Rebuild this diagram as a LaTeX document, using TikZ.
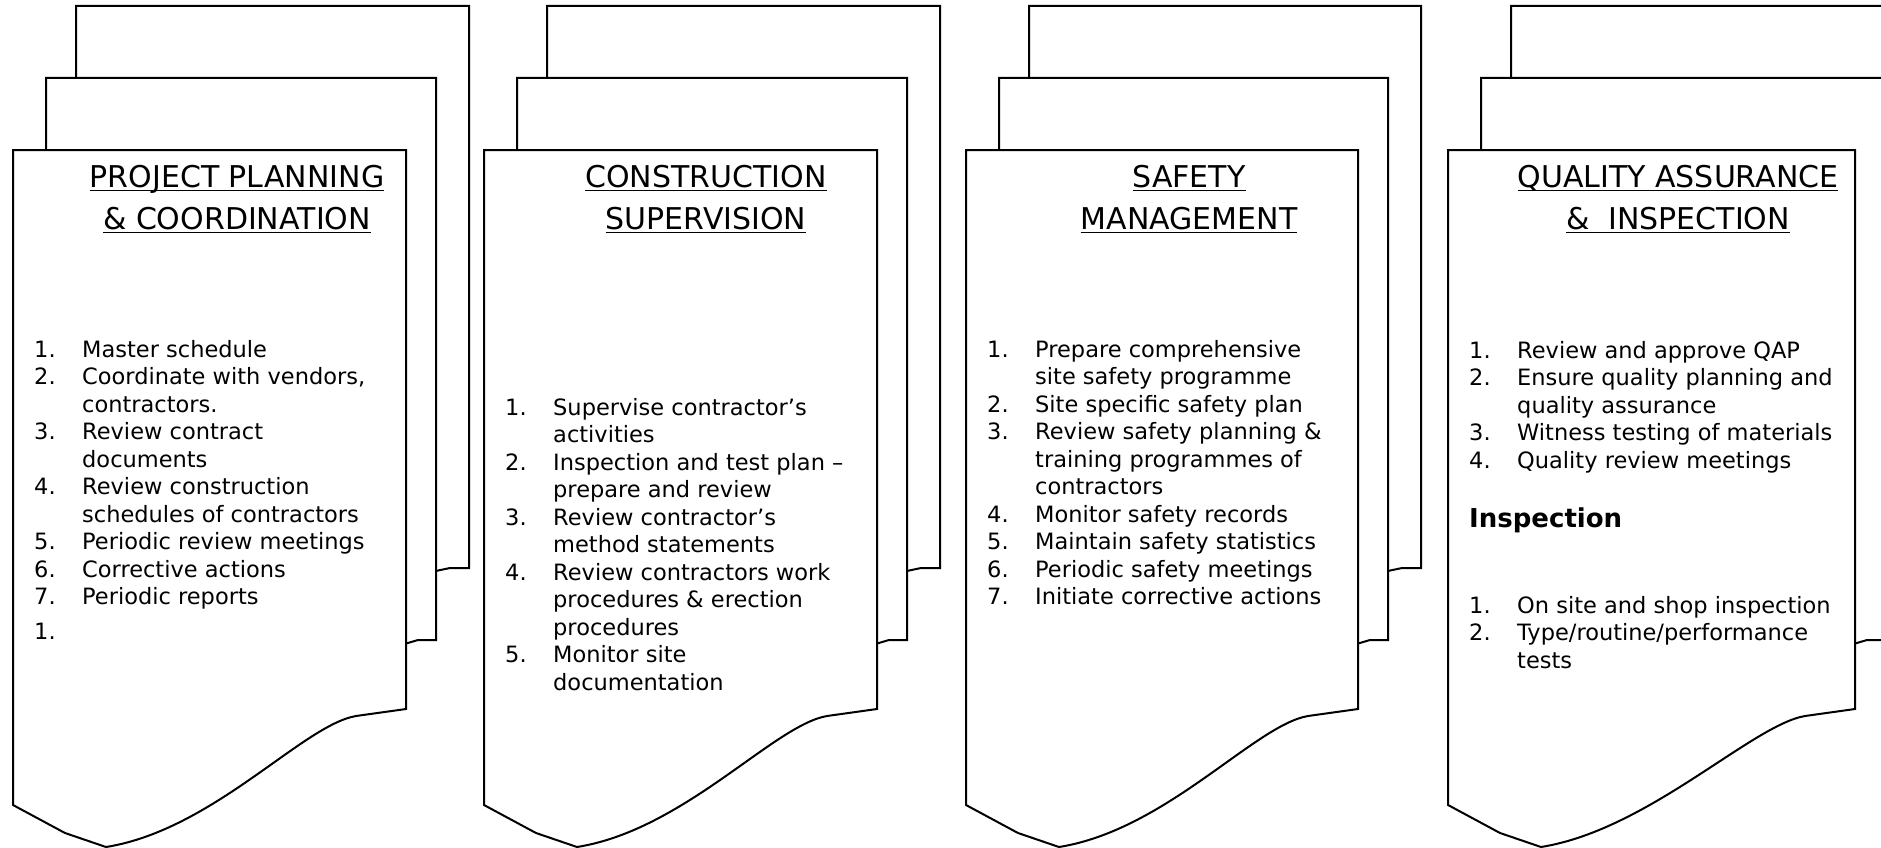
\documentclass[tikz,border=0pt]{standalone}
\usepackage{fontspec}
\setmainfont{DejaVu Sans}
\newsavebox\ulbox
\newcommand\myul[1]{\sbox\ulbox{#1}\rlap{\rule[-4pt]{\wd\ulbox}{1.5pt}}\usebox\ulbox}
\tikzset{
  page/.style={draw=black, fill=white, line width=2pt, line join=miter},
  ttl/.style={anchor=base, inner sep=0pt, font=\fontsize{30}{42}\selectfont},
  listtxt/.style={anchor=base west, inner sep=0pt, font=\fontsize{22.5}{27.5}\selectfont},
  headtxt/.style={anchor=base west, inner sep=0pt, font=\fontsize{26}{30}\selectfont\bfseries}
}
% #1 = left edge, #2 = right edge of the front page
\newcommand\docstack[2]{%
  \draw[page] ({#1+63},6) -- ({#2+63},6) -- ({#2+63},568) -- ({#2+44},568) -- ({#2+25},572) -- ({#1+63},572) -- cycle;
  \draw[page] ({#1+33},78) -- ({#2+30},78) -- ({#2+30},640) -- ({#2+12},640) -- ({#2-5},645) -- ({#1+33},645) -- cycle;
  \draw[page] (#1,150) -- (#2,150) -- (#2,709) -- ({#2-50},716)
     .. controls ({#2-103},725) and ({#1+200},830) .. ({#1+93},847)
     -- ({#1+52},833) -- (#1,805) -- cycle;
}
\begin{document}
\begin{tikzpicture}[x=1pt,y=-1pt]
\useasboundingbox (0,0) rectangle (1881,848);
\clip (0,0) rectangle (1881,848);
\docstack{13}{406}
\docstack{484}{877}
\docstack{966}{1358}
\docstack{1448}{1855}

% Document 1
\node[ttl] (t1) at (237,187) {\begin{tabular}[t]{@{}c@{}}\myul{PROJECT PLANNING}\\\myul{\& COORDINATION}\end{tabular}};
\node[listtxt] (l1) at (34,357) {\begin{tabular}[t]{@{}p{48pt}@{}l@{}}
1. & Master schedule\\
2. & Coordinate with vendors,\\
   & contractors.\\
3. & Review contract\\
   & documents\\
4. & Review construction\\
   & schedules of contractors\\
5. & Periodic review meetings\\
6. & Corrective actions\\
7. & Periodic reports\\[7pt]
1. & \\
\end{tabular}};

% Document 2
\node[ttl] (t2) at (706,187) {\begin{tabular}[t]{@{}c@{}}\myul{CONSTRUCTION}\\\myul{SUPERVISION}\end{tabular}};
\node[listtxt] (l2) at (505,415) {\begin{tabular}[t]{@{}p{48pt}@{}l@{}}
1. & Supervise contractor’s\\
   & activities\\
2. & Inspection and test plan –\\
   & prepare and review\\
3. & Review contractor’s\\
   & method statements\\
4. & Review contractors work\\
   & procedures \& erection\\
   & procedures\\
5. & Monitor site\\
   & documentation\\
\end{tabular}};

% Document 3
\node[ttl] (t3) at (1189,187) {\begin{tabular}[t]{@{}c@{}}\myul{SAFETY}\\\myul{MANAGEMENT}\end{tabular}};
\node[listtxt] (l3) at (987,357) {\begin{tabular}[t]{@{}p{48pt}@{}l@{}}
1. & Prepare comprehensive\\
   & site safety programme\\
2. & Site specific safety plan\\
3. & Review safety planning \&\\
   & training programmes of\\
   & contractors\\
4. & Monitor safety records\\
5. & Maintain safety statistics\\
6. & Periodic safety meetings\\
7. & Initiate corrective actions\\
\end{tabular}};

% Document 4
\node[ttl] (t4) at (1678,187) {\begin{tabular}[t]{@{}c@{}}\myul{QUALITY ASSURANCE}\\\myul{\&\ \ INSPECTION}\end{tabular}};
\node[listtxt] (l4a) at (1469,358) {\begin{tabular}[t]{@{}p{48pt}@{}l@{}}
1. & Review and approve QAP\\
2. & Ensure quality planning and\\
   & quality assurance\\
3. & Witness testing of materials\\
4. & Quality review meetings\\
\end{tabular}};
\node[headtxt] (h4) at (1469,527) {Inspection};
\node[listtxt] (l4b) at (1469,613) {\begin{tabular}[t]{@{}p{48pt}@{}l@{}}
1. & On site and shop inspection\\
2. & Type/routine/performance\\
   & tests\\
\end{tabular}};
\end{tikzpicture}
\end{document}
